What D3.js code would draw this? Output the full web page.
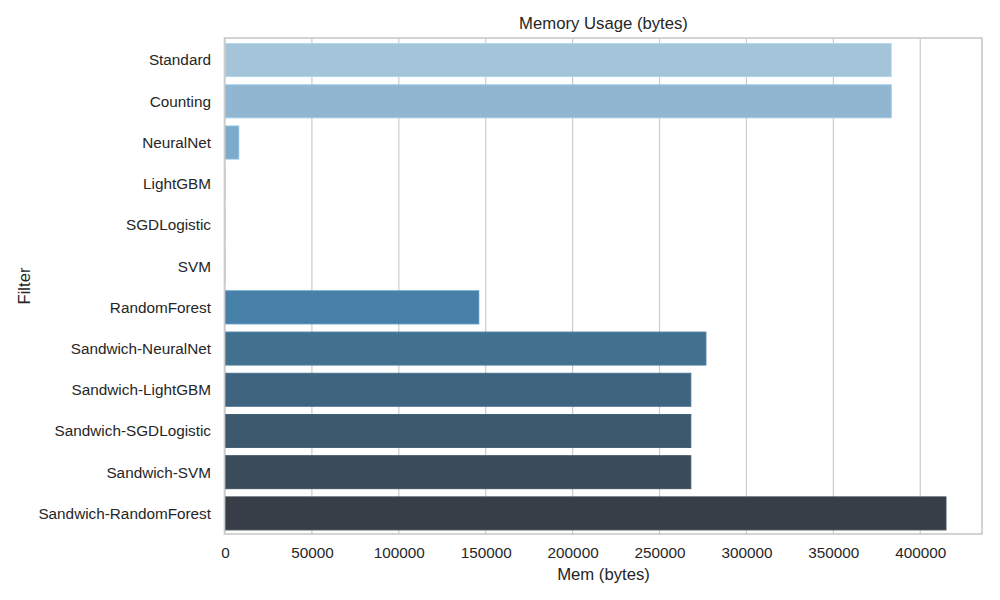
<!DOCTYPE html>
<html>
<head>
<meta charset="utf-8">
<script src="https://cdn.jsdelivr.net/npm/d3@7"></script>
<style>
  html, body { margin: 0; padding: 0; background: #fff; }
  svg { display: block; font-family: "Liberation Sans", Arial, sans-serif; }
</style>
</head>
<body>
<svg id="chart" width="1000" height="600"></svg>
<script>
const categories = ["Standard", "Counting", "NeuralNet", "LightGBM", "SGDLogistic", "SVM",
  "RandomForest", "Sandwich-NeuralNet", "Sandwich-LightGBM", "Sandwich-SGDLogistic",
  "Sandwich-SVM", "Sandwich-RandomForest"];
const memBytes = [383300, 383300, 7900, 120, 80, 100, 146000, 276700, 268000, 268000, 268000, 414800];
const xTicks = [0, 50000, 100000, 150000, 200000, 250000, 300000, 350000, 400000];
const palette = ["#a3c4d9", "#90b6d1", "#7eaacb", "#6c9dc2", "#5a90b9", "#4d85b0",
  "#4780a8", "#42718f", "#3f6480", "#3d596d", "#3a4b5b", "#373e47"];

const W = 1000, H = 600;
const m = { left: 225, right: 982, top: 38, bottom: 534 };
const svg = d3.select("#chart");
const data = categories.map((c, i) => ({ c, v: memBytes[i], col: palette[i] }));

const x = d3.scaleLinear()
  .domain([0, d3.max(memBytes) * 1.05])
  .range([m.left, m.right]);
const y = d3.scaleBand()
  .domain(categories)
  .range([39.5, m.bottom])
  .paddingInner(0.2).paddingOuter(0.1);

// grid
svg.append("g").selectAll("line").data(xTicks).join("line")
  .attr("x1", d => x(d)).attr("x2", d => x(d))
  .attr("y1", m.top).attr("y2", m.bottom)
  .attr("stroke", "#cccccc").attr("stroke-width", 1.2);

// bars
svg.append("g").selectAll("rect").data(data).join("rect")
  .attr("x", x(0))
  .attr("y", d => y(d.c))
  .attr("width", d => x(d.v) - x(0))
  .attr("height", y.bandwidth())
  .attr("fill", d => d.col)
  .attr("stroke", d => (x(d.v) - x(0)) > 2 ? d3.color(d.col).brighter(0.25) : "none")
  .attr("stroke-width", 1);

// spines
svg.append("rect")
  .attr("x", m.left - 0.5).attr("y", m.top)
  .attr("width", m.right - m.left + 0.5).attr("height", m.bottom - m.top)
  .attr("fill", "none").attr("stroke", "#cccccc").attr("stroke-width", 1.7);

// x axis
const xAxis = d3.axisBottom(x).tickValues(xTicks).tickSize(0).tickPadding(0).tickFormat(d3.format("d"));
const gx = svg.append("g").attr("transform", `translate(0,${m.bottom})`).call(xAxis);
gx.select(".domain").remove();
gx.selectAll("text").attr("dy", null).attr("y", 24)
  .attr("fill", "#262626").style("font-size", "15.3px")
  .style("font-family", '"Liberation Sans", Arial, sans-serif');

// y axis
const yAxis = d3.axisLeft(y).tickSize(0).tickPadding(14);
const gy = svg.append("g").attr("transform", `translate(${m.left},0)`).call(yAxis);
gy.select(".domain").remove();
gy.selectAll("text").attr("dy", "0.35em")
  .attr("fill", "#262626").style("font-size", "15.3px")
  .style("font-family", '"Liberation Sans", Arial, sans-serif');

// labels
svg.append("text").attr("x", (m.left + m.right) / 2).attr("y", 29)
  .attr("text-anchor", "middle").attr("fill", "#262626")
  .style("font-size", "16.7px").text("Memory Usage (bytes)");
svg.append("text").attr("x", (m.left + m.right) / 2).attr("y", 580)
  .attr("text-anchor", "middle").attr("fill", "#262626")
  .style("font-size", "16.7px").text("Mem (bytes)");
svg.append("text").attr("transform", `translate(30,${(m.top + m.bottom) / 2}) rotate(-90)`)
  .attr("text-anchor", "middle").attr("fill", "#262626")
  .style("font-size", "16.7px").text("Filter");
</script>
</body>
</html>
